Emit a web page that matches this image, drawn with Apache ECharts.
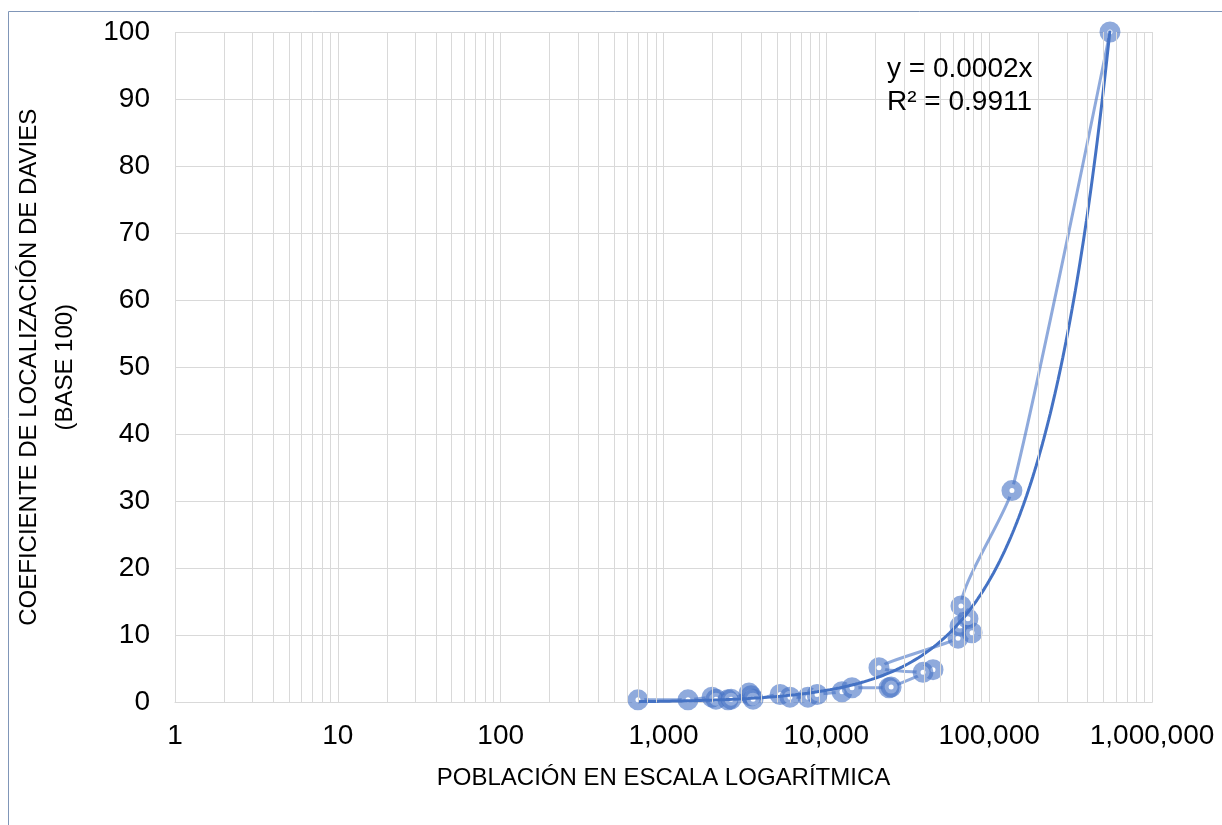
<!DOCTYPE html>
<html>
<head>
<meta charset="utf-8">
<script src="https://cdn.jsdelivr.net/npm/echarts@6/dist/echarts.min.js"></script>
<style>
html,body{margin:0;padding:0;background:#fff;}
#chart{width:1222px;height:825px;}
</style>
</head>
<body>
<div id="chart"></div>
<script>
// Data (population, Davies coefficient), in the order the line joins them
const population = [697, 1414, 1986, 2100, 2490, 2600, 3350, 3450, 3550, 5200, 5980, 7710, 8770, 12480, 14380, 24270, 25000, 45200, 39250, 21050, 64400, 66200, 78500, 74100, 67100, 138000, 552000];
const davies = [0.4, 0.4, 0.8, 0.5, 0.4, 0.5, 1.4, 1.0, 0.5, 1.2, 0.8, 0.8, 1.2, 1.6, 2.2, 2.2, 2.3, 4.9, 4.5, 5.2, 9.6, 11.4, 10.4, 12.5, 14.4, 31.6, 100];
const yTicks = [0, 10, 20, 30, 40, 50, 60, 70, 80, 90, 100];
const xTickLabels = {1: '1', 10: '10', 100: '100', 1000: '1,000', 10000: '10,000', 100000: '100,000', 1000000: '1,000,000'};
const equationText = 'y = 0.0002x';
const r2Text = 'R² = 0.9911';
const xTitle = 'POBLACIÓN EN ESCALA LOGARÍTMICA';
const yTitle = 'COEFICIENTE DE LOCALIZACIÓN DE DAVIES\n(BASE 100)';

// scatter points
const points = population.map((p, i) => [p, davies[i]]);

// linear trendline through origin (least squares), like the spreadsheet's
let sxy = 0, sxx = 0;
population.forEach((p, i) => { sxy += p * davies[i]; sxx += p * p; });
const slope = sxy / sxx;
const xmin = Math.min(...population), xmax = Math.max(...population);
const trend = [];
const nT = 300;
for (let k = 0; k <= nT; k++) {
  const x = Math.pow(10, Math.log10(xmin) + (Math.log10(xmax) - Math.log10(xmin)) * k / nT);
  trend.push([x, slope * x]);
}

// minor grid values for the log axis (2..9 x 10^k)
const minorGrid = [];
for (let e = 0; e < 6; e++) for (let m = 2; m <= 9; m++) minorGrid.push({xAxis: m * Math.pow(10, e)});

const chart = echarts.init(document.getElementById('chart'), null, {renderer: 'canvas'});
const FONT = 'Liberation Sans, Arial, sans-serif';
chart.setOption({
  animation: false,
  backgroundColor: '#fff',
  grid: {left: 175, right: 70, top: 32, bottom: 122.5, containLabel: false, outerBoundsMode: 'none'},
  xAxis: {
    type: 'log', min: 1, max: 1000000, logBase: 10,
    name: xTitle, nameLocation: 'middle', nameGap: 64,
    nameTextStyle: {fontFamily: FONT, fontSize: 24, color: '#000'},
    axisLine: {show: true, lineStyle: {color: '#d9d9d9', width: 1}},
    axisTick: {show: false},
    axisLabel: {fontFamily: FONT, fontSize: 28, color: '#000', margin: 20,
      formatter: v => xTickLabels[Math.round(v)] || ''},
    splitLine: {show: true, lineStyle: {color: '#d9d9d9', width: 1}},
    minorTick: {show: false}, minorSplitLine: {show: false}
  },
  yAxis: {
    type: 'value', min: 0, max: 100, interval: 10,
    name: yTitle, nameLocation: 'middle', nameGap: 92, nameRotate: 90,
    nameTextStyle: {fontFamily: FONT, fontSize: 24, color: '#000', lineHeight: 36},
    axisLine: {show: false}, axisTick: {show: false},
    axisLabel: {fontFamily: FONT, fontSize: 28, color: '#000', margin: 25},
    splitLine: {show: true, lineStyle: {color: '#d9d9d9', width: 1}}
  },
  graphic: [
    {type: 'rect', shape: {x: 8.5, y: 11.5, width: 1400, height: 1000}, style: {fill: null, stroke: '#8096b8', lineWidth: 1}, z: 100, silent: true},
    {type: 'text', left: 887, top: 53, style: {text: equationText + '\n' + r2Text, font: '28px ' + FONT, fill: '#000', lineHeight: 33}, z: 100}
  ],
  series: [
    {
      type: 'line', name: 'grid-minor', data: [], silent: true,
      markLine: {silent: true, symbol: 'none', label: {show: false},
        lineStyle: {color: '#d9d9d9', width: 1, type: 'solid'}, data: minorGrid, animation: false}
    },
    {
      type: 'line', name: 'Davies', data: points, smooth: 0.2,
      lineStyle: {color: 'rgba(68,114,196,0.6)', width: 3},
      symbol: 'circle', symbolSize: 13,
      itemStyle: {color: '#ffffff', borderColor: 'rgba(68,114,196,0.6)', borderWidth: 8},
      z: 3
    },
    {
      type: 'line', name: 'Tendencia', data: trend, showSymbol: false, symbol: 'none',
      lineStyle: {color: '#4472C4', width: 3}, z: 4
    }
  ]
});
</script>
</body>
</html>
